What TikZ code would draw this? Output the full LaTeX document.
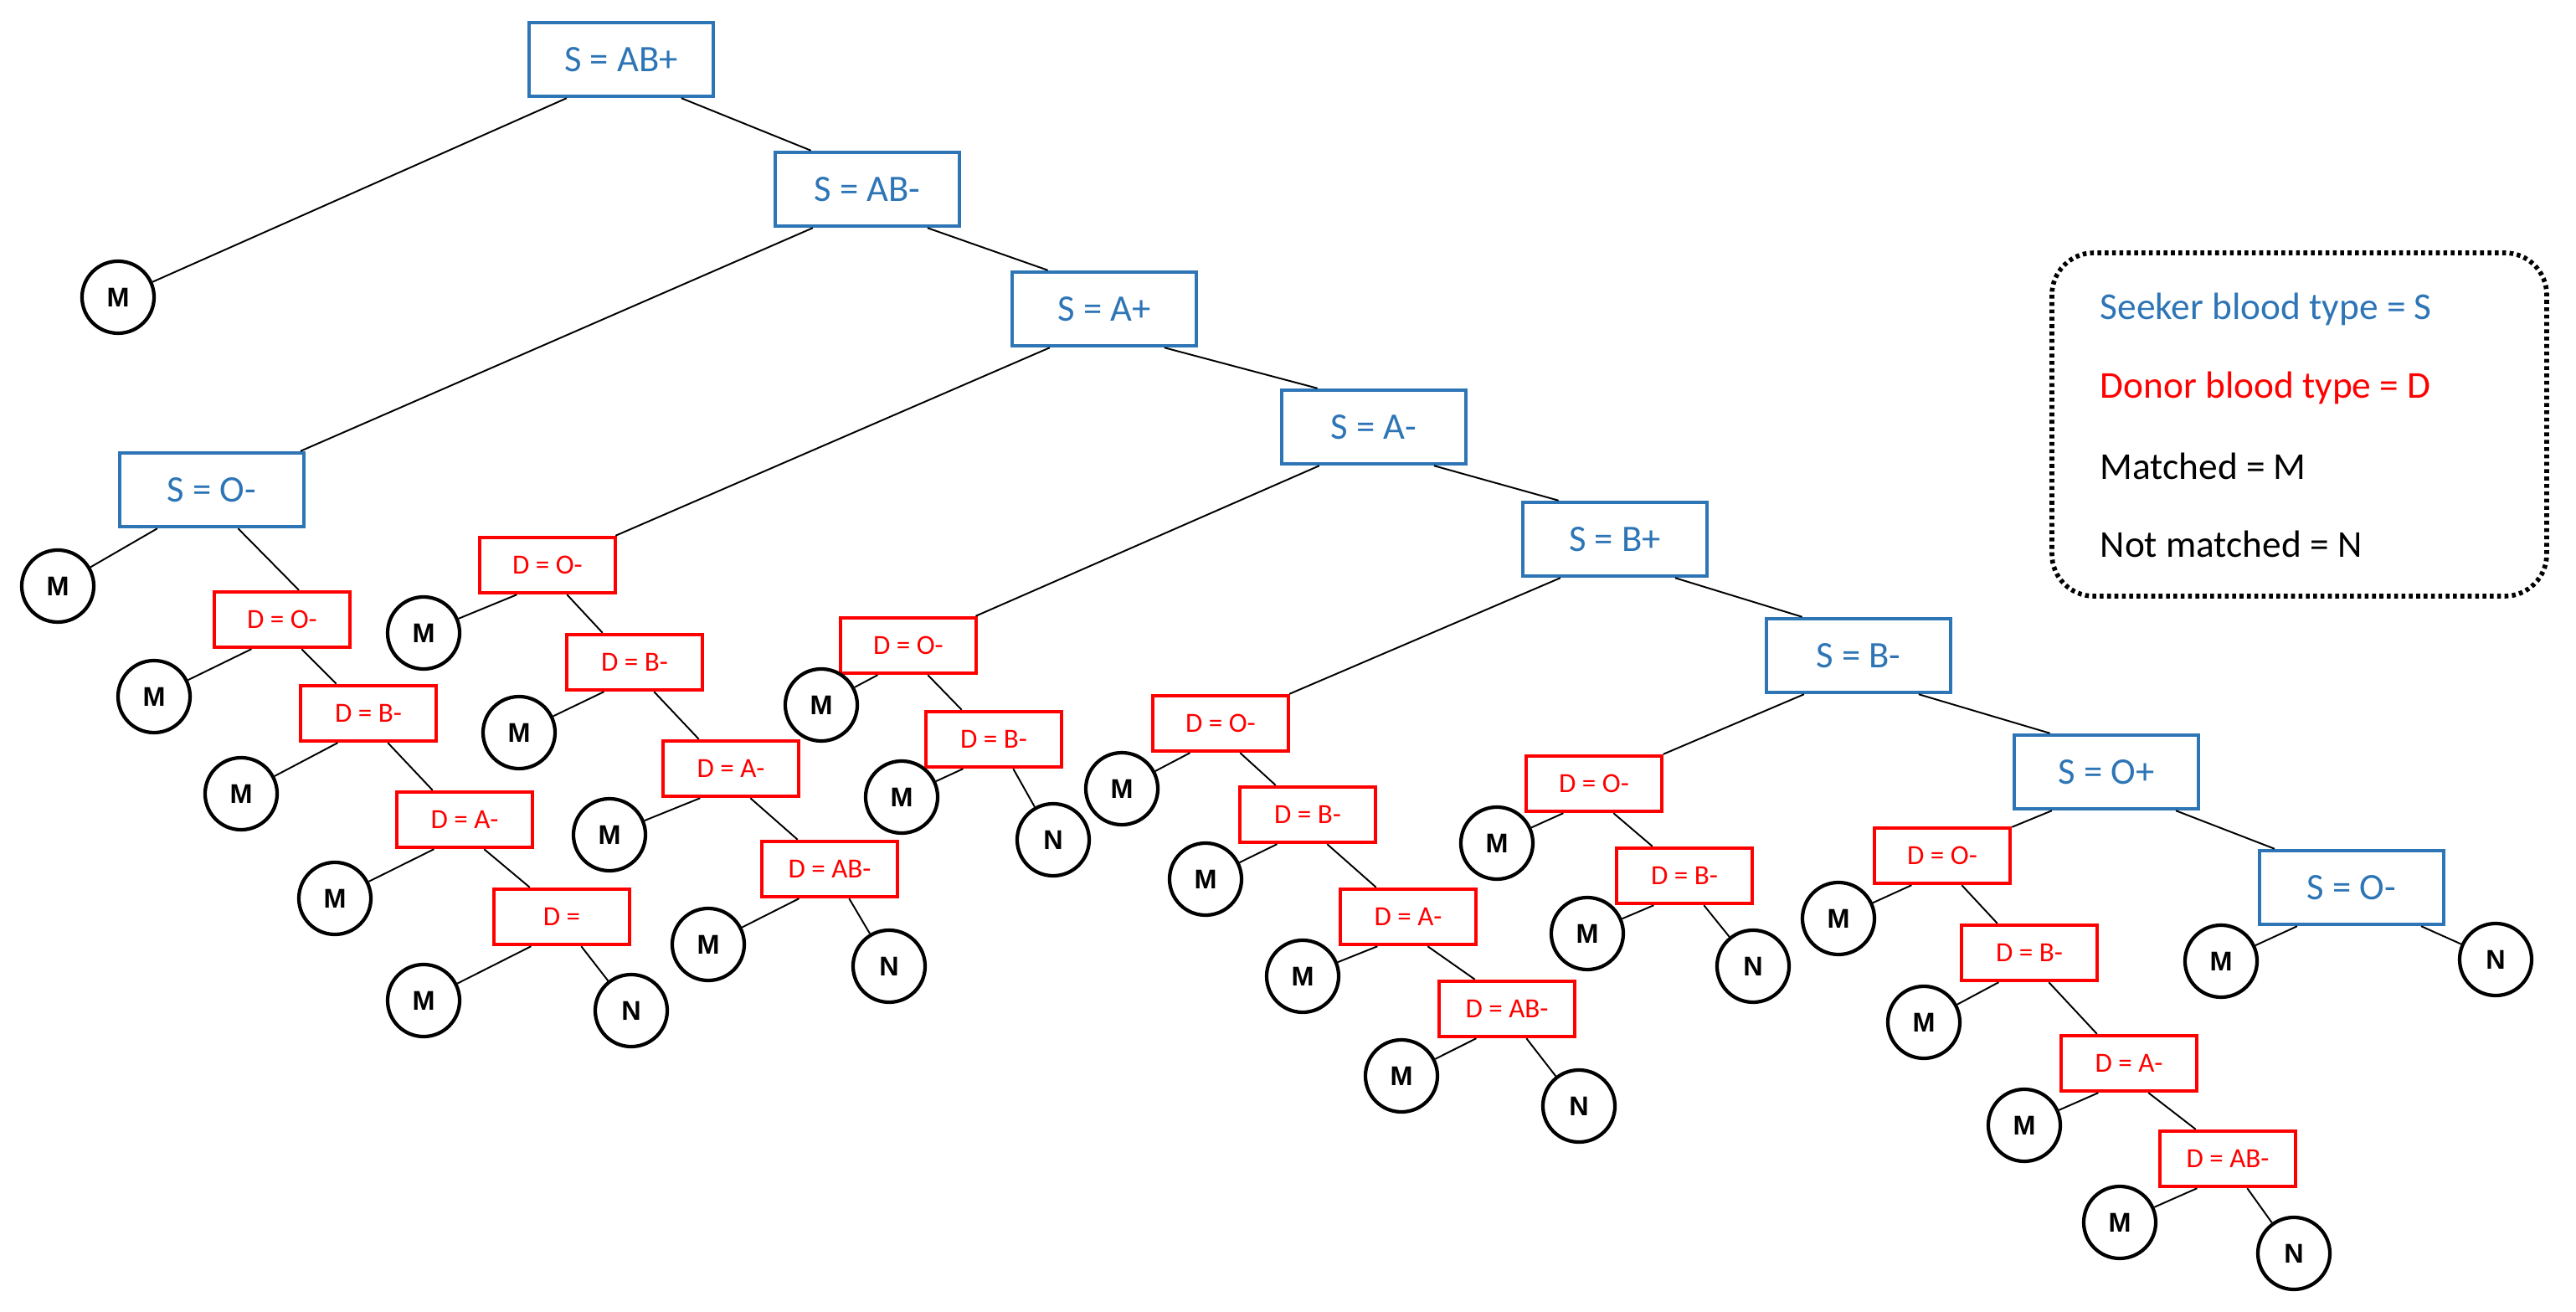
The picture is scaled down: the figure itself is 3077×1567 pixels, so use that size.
\documentclass[tikz,border=0pt]{standalone}
\usepackage{fontspec}
\setmainfont{Carlito}
\newfontfamily\leaffont{Liberation Sans}
\usetikzlibrary{calc}
\definecolor{SeekBlue}{HTML}{2E75B6}
\definecolor{DonorRed}{HTML}{FF0000}

\tikzset{
  seeker/.style={draw=SeekBlue, line width=1.25pt, text=SeekBlue, inner sep=0pt,
    minimum width=2.2cm, minimum height=0.88cm, font=\fontsize{12.7}{14}\selectfont},
  donor/.style={draw=DonorRed, line width=1.25pt, text=DonorRed, inner sep=0pt,
    minimum width=1.62cm, minimum height=0.66cm, font=\fontsize{9.4}{11}\selectfont,
    text depth=-0.5pt},
  leaf/.style={draw, circle, line width=1.2pt, minimum size=0.86cm, inner sep=0pt,
    font=\leaffont\bfseries\fontsize{9.2}{10}\selectfont},
  branch/.style={line width=0.55pt},
  keytext/.style={anchor=west, inner sep=0pt, font=\fontsize{12.9}{14}\selectfont}
}

\begin{document}
\begin{tikzpicture}[x=0.01cm, y=-0.01cm]
  \useasboundingbox (0,0) rectangle (3077,1567);

  % seeker chain
  \node[seeker] (sABp) at (742,71)   {S = AB+};
  \node[seeker] (sABm) at (1036,226) {S = AB-};
  \node[seeker] (sAp)  at (1319,369) {S = A+};
  \node[seeker] (sAm)  at (1641,510) {S = A-};
  \node[seeker] (sBp)  at (1929,644) {S = B+};
  \node[seeker] (sBm)  at (2220,783) {S = B-};
  \node[seeker] (sOp)  at (2516,922) {S = O+};
  \node[seeker] (sOmR) at (2809,1060) {S = O-};
  \node[seeker] (sOmL) at (253,585)  {S = O-};

  % donor boxes
  \node[donor] (dOa) at (337,740)  {D = O-};
  \node[donor] (dBa) at (440,852)  {D = B-};
  \node[donor] (dAa) at (555,979)  {D = A-};
  \node[donor] (dXa) at (671,1095) {D =};

  \node[donor] (dOb)  at (654,675)  {D = O-};
  \node[donor] (dBb)  at (758,791)  {D = B-};
  \node[donor] (dAb)  at (873,918)  {D = A-};
  \node[donor] (dABb) at (991,1038) {D = AB-};

  \node[donor] (dOc) at (1085,771) {D = O-};
  \node[donor] (dBc) at (1187,883) {D = B-};

  \node[donor] (dOd)  at (1458,864)  {D = O-};
  \node[donor] (dBd)  at (1562,973)  {D = B-};
  \node[donor] (dAd)  at (1682,1095) {D = A-};
  \node[donor] (dABd) at (1800,1205) {D = AB-};

  \node[donor] (dOe) at (1904,936)  {D = O-};
  \node[donor] (dBe) at (2012,1046) {D = B-};

  \node[donor] (dOf)  at (2320,1022) {D = O-};
  \node[donor] (dBf)  at (2424,1138) {D = B-};
  \node[donor] (dAf)  at (2543,1270) {D = A-};
  \node[donor] (dABf) at (2661,1384) {D = AB-};

  % leaves
  \node[leaf] (mABp) at (141,355) {M};
  \node[leaf] (mOmL) at (69,700)  {M};
  \node[leaf] (mOa)  at (184,832) {M};
  \node[leaf] (mBa)  at (288,948) {M};
  \node[leaf] (mAa)  at (400,1073) {M};
  \node[leaf] (mXa)  at (506,1195) {M};
  \node[leaf] (nXa)  at (754,1207) {N};
  \node[leaf] (mOb)  at (506,756)  {M};
  \node[leaf] (mBb)  at (620,875)  {M};
  \node[leaf] (mAb)  at (728,997)  {M};
  \node[leaf] (mABb) at (846,1128) {M};
  \node[leaf] (nABb) at (1062,1154) {N};
  \node[leaf] (mOc)  at (981,842)  {M};
  \node[leaf] (mBc)  at (1077,952) {M};
  \node[leaf] (nBc)  at (1258,1003) {N};
  \node[leaf] (mOd)  at (1340,942) {M};
  \node[leaf] (mBd)  at (1440,1050) {M};
  \node[leaf] (mAd)  at (1556,1166) {M};
  \node[leaf] (mABd) at (1674,1285) {M};
  \node[leaf] (nABd) at (1886,1321) {N};
  \node[leaf] (mOe)  at (1788,1007) {M};
  \node[leaf] (mBe)  at (1896,1115) {M};
  \node[leaf] (nBe)  at (2094,1154) {N};
  \node[leaf] (mOf)  at (2196,1097) {M};
  \node[leaf] (mBf)  at (2298,1221) {M};
  \node[leaf] (mAf)  at (2418,1344) {M};
  \node[leaf] (mABf) at (2532,1460) {M};
  \node[leaf] (nABf) at (2740,1497) {N};
  \node[leaf] (mOmR) at (2653,1148) {M};
  \node[leaf] (nOmR) at (2981,1146) {N};

  % left branches
  \foreach \p/\c in {sABp/mABp, sABm/sOmL, sAp/dOb, sAm/dOc, sBp/dOd, sBm/dOe,
                     sOp/dOf, sOmL/mOmL, sOmR/mOmR}
    \draw[branch] ($(\p.south west)!.21!(\p.south east)$) -- (\c);
  \foreach \p/\c in {dOa/mOa, dBa/mBa, dAa/mAa, dXa/mXa, dOb/mOb, dBb/mBb, dAb/mAb,
                     dABb/mABb, dOc/mOc, dBc/mBc, dOd/mOd, dBd/mBd, dAd/mAd, dABd/mABd,
                     dOe/mOe, dBe/mBe, dOf/mOf, dBf/mBf, dAf/mAf, dABf/mABf}
    \draw[branch] ($(\p.south west)!.28!(\p.south east)$) -- (\c);

  % right branches
  \foreach \p/\c in {sABp/sABm, sABm/sAp, sAp/sAm, sAm/sBp, sBp/sBm, sBm/sOp}
    \draw[branch] ($(\p.south west)!.82!(\p.south east)$) -- ($(\c.north west)!.2!(\c.north east)$);
  \draw[branch] ($(sOp.south west)!.87!(sOp.south east)$) -- ($(sOmR.north west)!.09!(sOmR.north east)$);
  \draw[branch] ($(sOmR.south west)!.87!(sOmR.south east)$) -- (nOmR);
  \draw[branch] ($(sOmL.south west)!.64!(sOmL.south east)$) -- ($(dOa.north west)!.62!(dOa.north east)$);
  \foreach \p/\c in {dOa/dBa, dBa/dAa, dAa/dXa, dOb/dBb, dBb/dAb, dAb/dABb, dOc/dBc,
                     dOd/dBd, dBd/dAd, dAd/dABd, dOe/dBe, dOf/dBf, dBf/dAf, dAf/dABf}
    \draw[branch] ($(\p.south west)!.64!(\p.south east)$) -- ($(\c.north west)!.27!(\c.north east)$);
  \foreach \p/\c in {dXa/nXa, dABb/nABb, dBc/nBc, dABd/nABd, dBe/nBe, dABf/nABf}
    \draw[branch] ($(\p.south west)!.64!(\p.south east)$) -- (\c);

  % key
  \draw[line width=1.6pt, dash pattern=on 1.3pt off 1.2pt, rounded corners=0.5cm]
    (2451,302) rectangle (3042,712);
  \node[keytext, text=SeekBlue]  (keyS) at (2508,369) {Seeker blood type = S};
  \node[keytext, text=DonorRed]  (keyD) at (2508,463) {Donor blood type = D};
  \node[keytext]                 (keyM) at (2508,557) {Matched = M};
  \node[keytext]                 (keyN) at (2508,650) {Not matched = N};
\end{tikzpicture}
\end{document}
